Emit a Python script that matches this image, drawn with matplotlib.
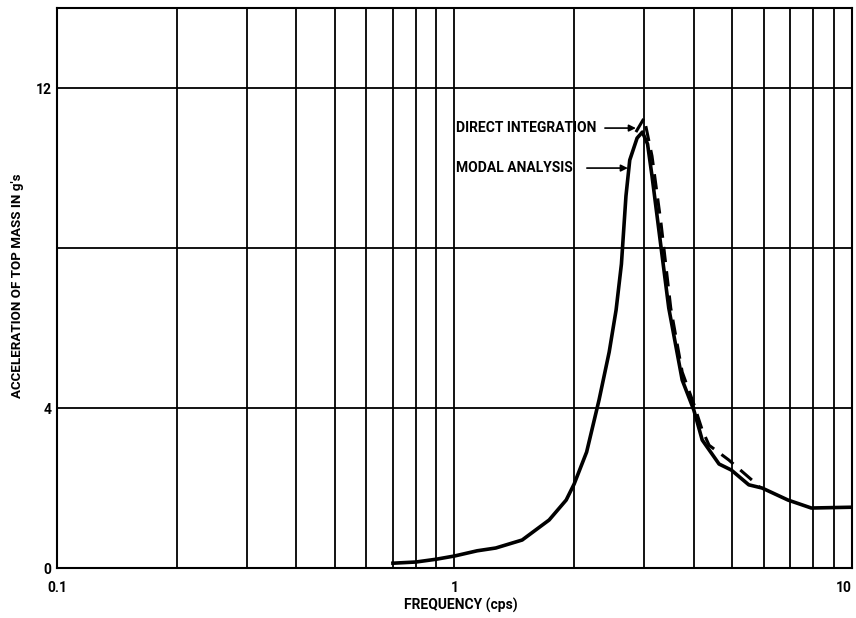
import matplotlib
matplotlib.use("Agg")
from matplotlib import pyplot as plt
from matplotlib.ticker import NullFormatter, FixedLocator

# modal analysis (solid curve)
modal_freq = [0.70, 0.80, 0.90, 1.00, 1.14, 1.27, 1.48, 1.73, 1.91, 2.00, 2.15, 2.31,
              2.45, 2.55, 2.63, 2.70, 2.76, 2.88, 2.97, 3.06, 3.14, 3.33, 3.46, 3.74, 4.00,
              4.20, 4.63, 4.97, 5.50, 5.94, 6.90, 7.90, 10.0]
modal_acc = [0.12, 0.15, 0.22, 0.30, 0.43, 0.50, 0.70, 1.20, 1.70, 2.10, 2.90, 4.20,
             5.40, 6.45, 7.60, 9.30, 10.2, 10.75, 10.9, 10.6, 9.80, 7.80, 6.50, 4.70, 3.95,
             3.20, 2.60, 2.45, 2.08, 2.00, 1.70, 1.50, 1.52]

# direct integration (dashed curve)
direct_freq = [2.86, 3.00, 3.14, 3.31, 3.50, 3.74, 4.00, 4.20, 4.37, 4.90, 5.60, 5.85]
direct_acc = [10.9, 11.25, 10.3, 8.6, 6.5, 4.9, 4.1, 3.45, 3.07, 2.70, 2.20, 2.03]

font = ["Roboto", "DejaVu Sans"]

fig = plt.figure(figsize=(8.56, 6.18), dpi=100)
ax = fig.add_axes([0.0666, 0.0809, 0.9287, 0.906])

ax.set_xscale("log")
ax.set_xlim(0.1, 10)
ax.set_ylim(0, 14)

minor = [m * d for d in (0.1, 1) for m in range(2, 10)]
ax.xaxis.set_minor_locator(FixedLocator(minor))
ax.xaxis.set_minor_formatter(NullFormatter())
ax.set_xticks([0.1, 1, 10])
ax.set_xticklabels(["0.1", "1", "10"])
ax.set_yticks([0, 4, 8, 12])
ax.set_yticklabels(["0", "4", "", "12"])

ax.grid(True, which="both", color="black", linewidth=1.3)
ax.tick_params(which="both", length=0, labelsize=10)
ax.tick_params(axis="x", pad=9)
ax.tick_params(axis="y", pad=4)
for lab in ax.get_xticklabels() + ax.get_yticklabels():
    lab.set_family(font)
    lab.set_fontweight("bold")
ax.get_xticklabels()[-1].set_horizontalalignment("right")
for s in ax.spines.values():
    s.set_linewidth(1.5)

ax.plot(modal_freq, modal_acc, color="black", linewidth=2.6, solid_joinstyle="round")
ax.plot(direct_freq, direct_acc, color="black", linewidth=2.2, linestyle=(0, (5, 3)))

ax.annotate("DIRECT INTEGRATION", xy=(2.86, 11.0), xytext=(1.01, 11.0),
            family=font, fontweight="bold", fontsize=10, va="center",
            arrowprops=dict(arrowstyle="-|>", color="black", lw=1.2,
                            mutation_scale=10, shrinkA=4, shrinkB=0))
ax.annotate("MODAL ANALYSIS", xy=(2.73, 10.0), xytext=(1.01, 10.0),
            family=font, fontweight="bold", fontsize=10, va="center",
            arrowprops=dict(arrowstyle="-|>", color="black", lw=1.2,
                            mutation_scale=10, shrinkA=8, shrinkB=0))

ax.set_xlabel("FREQUENCY (cps)", family=font, fontweight="bold", fontsize=10)
ax.xaxis.set_label_coords(0.508, -0.054)
ax.set_ylabel("ACCELERATION OF TOP MASS IN g's", family=font, fontweight="bold",
              fontsize=9.6)
ax.yaxis.set_label_coords(-0.042, 0.505)

fig.savefig("out.png", dpi=100)
